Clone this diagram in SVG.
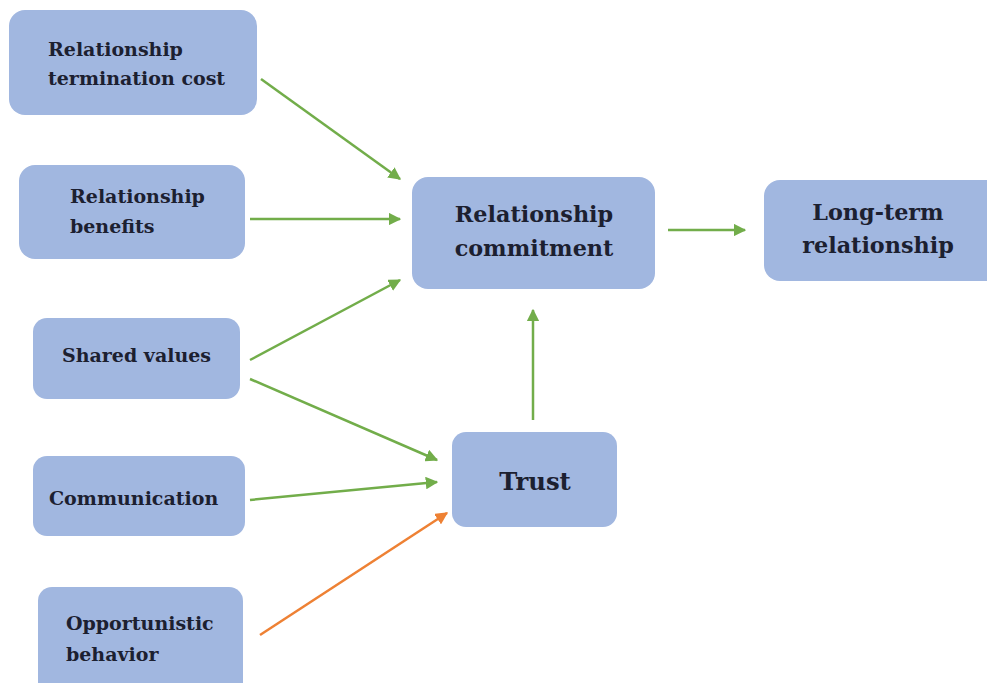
<svg xmlns="http://www.w3.org/2000/svg" width="987" height="683" viewBox="0 0 987 683">
<defs>
<style>
.box{fill:#a1b7e0}
.t{font-family:"DejaVu Serif",serif;font-weight:bold;fill:#1c2030;font-size:19px}
.tl{font-family:"DejaVu Serif",serif;font-weight:bold;fill:#1c2030;font-size:22.3px;text-anchor:middle}
.g{stroke:#72ad4a;stroke-width:2.5;fill:none;marker-end:url(#ag)}
.o{stroke:#ee8134;stroke-width:2.5;fill:none;marker-end:url(#ao)}
</style>
<marker id="ag" viewBox="0 0 10 10" refX="9" refY="5" markerWidth="5" markerHeight="5" orient="auto" markerUnits="strokeWidth"><path d="M0,0 L10,5 L0,10 z" fill="#72ad4a"/></marker>
<marker id="ao" viewBox="0 0 10 10" refX="9" refY="5" markerWidth="5" markerHeight="5" orient="auto" markerUnits="strokeWidth"><path d="M0,0 L10,5 L0,10 z" fill="#ee8134"/></marker>
</defs>
<rect width="987" height="683" fill="#ffffff"/>
<g id="connectors">
<line class="g" x1="261" y1="79" x2="400" y2="179"/>
<line class="g" x1="250" y1="219" x2="400" y2="219"/>
<line class="g" x1="250" y1="360" x2="400" y2="280"/>
<line class="g" x1="250" y1="379" x2="437" y2="460"/>
<line class="g" x1="250" y1="500" x2="437" y2="482"/>
<line class="o" x1="260" y1="635" x2="447" y2="513"/>
<line class="g" x1="533" y1="420" x2="533" y2="310"/>
<line class="g" x1="668" y1="230" x2="745" y2="230"/>
</g>
<g id="n1"><rect class="box" x="9" y="10" width="248" height="105" rx="16"/>
<text class="t" x="48" y="56">Relationship</text><text class="t" x="48" y="85">termination cost</text></g>
<g id="n2"><rect class="box" x="19" y="165" width="226" height="94" rx="16"/>
<text class="t" x="70" y="203">Relationship</text><text class="t" x="70" y="233">benefits</text></g>
<g id="n3"><rect class="box" x="33" y="318" width="207" height="81" rx="14"/>
<text class="t" x="62" y="362">Shared values</text></g>
<g id="n4"><rect class="box" x="33" y="456" width="212" height="80" rx="14"/>
<text class="t" x="49" y="505">Communication</text></g>
<g id="n5"><rect class="box" x="38" y="587" width="205" height="110" rx="14"/>
<text class="t" x="66" y="630">Opportunistic</text><text class="t" x="66" y="661">behavior</text></g>
<g id="n6"><rect class="box" x="412" y="177" width="243" height="112" rx="16"/>
<text class="tl" x="534" y="222">Relationship</text><text class="tl" x="534" y="256">commitment</text></g>
<g id="n7"><rect class="box" x="764" y="180" width="240" height="101" rx="16"/>
<text class="tl" x="878" y="220">Long-term</text><text class="tl" x="878" y="253">relationship</text></g>
<g id="n8"><rect class="box" x="452" y="432" width="165" height="95" rx="14"/>
<text class="tl" x="535" y="490" style="font-size:24.3px">Trust</text></g>
</svg>
